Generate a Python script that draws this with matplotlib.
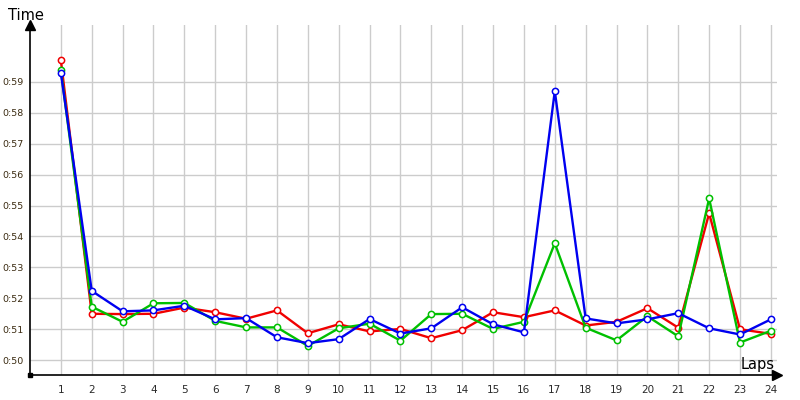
import matplotlib
matplotlib.use('Agg')
import matplotlib.pyplot as plt

# lap numbers and lap times (seconds) for three drivers
laps = list(range(1, 25))
red_times = [59.70, 51.50, 51.49, 51.50, 51.70, 51.55, 51.34, 51.61, 50.87, 51.16, 50.93, 51.01,
             50.71, 50.97, 51.55, 51.39, 51.61, 51.12, 51.24, 51.68, 51.05, 54.75, 51.00, 50.85]
green_times = [59.38, 51.73, 51.24, 51.84, 51.85, 51.27, 51.06, 51.06, 50.46, 51.03, 51.18, 50.63,
               51.49, 51.50, 51.01, 51.24, 53.78, 51.05, 50.64, 51.42, 50.77, 55.23, 50.57, 50.95]
blue_times = [59.29, 52.24, 51.58, 51.61, 51.76, 51.32, 51.36, 50.74, 50.55, 50.68, 51.33, 50.86,
              51.03, 51.71, 51.16, 50.90, 58.70, 51.35, 51.19, 51.32, 51.52, 51.03, 50.83, 51.32]
y_ticks = list(range(50, 60))
y_labels = ['0:%d' % s for s in y_ticks]

fig = plt.figure(figsize=(8, 4), dpi=100)
ax = fig.add_axes([30 / 800, 25 / 400, 747 / 800, 350 / 400])

series = [(red_times, '#f00000'), (green_times, '#00c000'), (blue_times, '#0000f0')]
for times, col in series:
    ax.plot(laps, times, color=col, lw=1.7, marker='o', ms=4.5, mfc='white',
            mec=col, mew=1.1, zorder=3)

ax.set_xlim(0, 747 / 30.87)
ax.set_ylim(49.52, 60.84)
ax.set_xticks(laps)
ax.set_yticks(y_ticks)
ax.set_yticklabels(y_labels)
ax.grid(True, color='#cccccc', lw=1)
ax.set_axisbelow(True)

for s in ['top', 'right']:
    ax.spines[s].set_visible(False)
for s in ['left', 'bottom']:
    ax.spines[s].set_color('black')
    ax.spines[s].set_linewidth(1.2)

ax.tick_params(length=0, labelsize=7.5, colors='#2a2a2a')
ax.tick_params(axis='x', pad=7)
for lbl in ax.get_yticklabels():
    lbl.set_horizontalalignment('left')
    lbl.set_color('#3a2a10')
    lbl.set_fontsize(6.8)
ax.tick_params(axis='y', pad=20)

# axis arrows
ax.plot([0], [1], marker='^', color='black', ms=6.5, transform=ax.transAxes, clip_on=False)
ax.plot([1], [0], marker='>', color='black', ms=6.5, transform=ax.transAxes, clip_on=False)
ax.plot([0], [0], marker='s', color='black', ms=3, transform=ax.transAxes, clip_on=False)

fig.text(8 / 800, 1 - 16 / 400, 'Time', fontsize=10.5, va='center', ha='left')
fig.text(775 / 800, 1 - 365 / 400, 'Laps', fontsize=10.5, va='center', ha='right')

fig.savefig('out.png', dpi=100)
